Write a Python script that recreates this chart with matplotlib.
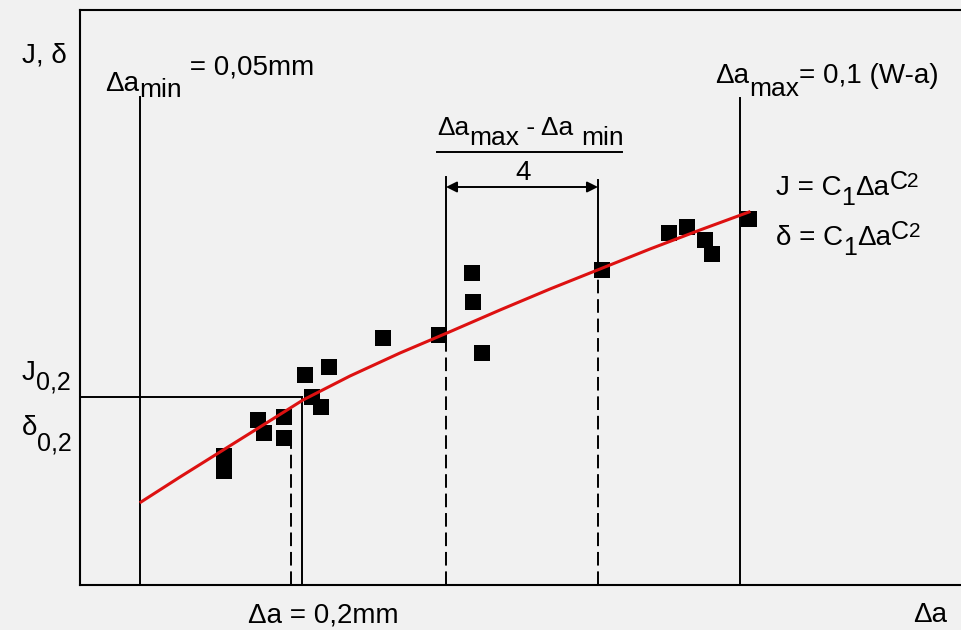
import matplotlib.pyplot as plt

plt.rcParams["font.family"] = ["Liberation Sans", "DejaVu Sans"]

bg = "#f1f1f1"

# measured points (axis units, origin at the lower left corner of the frame)
pts_x = [144, 144, 178, 184, 204, 204, 225, 249, 232, 241, 303, 359, 392, 393, 402,
         522, 589, 607, 625, 632, 669]
pts_y = [129, 114, 165, 152, 168, 147, 210, 218, 188, 178, 247, 250, 312, 283, 232,
         315, 352, 358, 345, 331, 366]

# fitted curve J = C1*da^C2
fit_x = [61, 100, 140, 180, 223, 270, 320, 367, 420, 470, 520, 570, 620, 669]
fit_y = [83, 108, 133, 158, 185, 209, 232, 252, 275, 296, 316, 336, 355, 373]

da_min, da_max = 60, 660
da_02, da_02_dash = 222, 211
J02 = 188
q1, q2 = 366, 518          # the quarter step
q1_y, q2_y = 252, 315      # where the fit meets them

fig = plt.figure(figsize=(9.61, 6.3), dpi=100, facecolor=bg)
ax = fig.add_axes([80/961, 45/630, 895/961, 575/630])
ax.set_facecolor(bg)
ax.set_xlim(0, 895)
ax.set_ylim(0, 575)
ax.set_xticks([])
ax.set_yticks([])
for s in ax.spines.values():
    s.set_linewidth(1.5)

lw = 1.4
dash = (0, (7, 3))
ax.plot([da_min, da_min], [0, 488], color="black", lw=lw)
ax.plot([da_max, da_max], [0, 487], color="black", lw=lw)
ax.plot([da_02, da_02], [0, J02], color="black", lw=lw)
ax.plot([0, da_02], [J02, J02], color="black", lw=lw)
ax.plot([da_02_dash, da_02_dash], [0, 140], color="black", lw=lw, linestyle=dash)

ax.plot([q1, q1], [q1_y, 408], color="black", lw=lw)
ax.plot([q1, q1], [0, q1_y], color="black", lw=lw, linestyle=dash)
ax.plot([q2, q2], [q2_y, 405], color="black", lw=lw)
ax.plot([q2, q2], [0, q2_y], color="black", lw=lw, linestyle=dash)
ax.annotate("", xy=(q1, 398), xytext=(q2, 398),
            arrowprops=dict(arrowstyle="<|-|>", color="black", lw=lw, mutation_scale=16,
                            shrinkA=0, shrinkB=0))

ax.plot(pts_x, pts_y, "s", color="black", markersize=12, markeredgewidth=0)
ax.plot(fit_x, fit_y, color="#dd1111", lw=2.2)

FS = 20


def rich(x, y, parts):
    # parts: (text, shift in points from the base line, font size)
    prev = None
    for s, dy, size in parts:
        if prev is None:
            prev = ax.annotate(s, xy=(x, y), xycoords="data", xytext=(0, dy),
                               textcoords="offset points", fontsize=size,
                               va="baseline", annotation_clip=False)
        else:
            prev = ax.annotate(s, xy=(1, y), xycoords=(prev, "data"), xytext=(0, dy),
                               textcoords="offset points", fontsize=size,
                               va="baseline", annotation_clip=False)


rich(-58, 522, [("J, δ", 0, FS)])
rich(25, 494, [("Δa", 0, FS), ("min", -4, FS - 1), (" = 0,05mm", 12, FS)])
rich(635, 502, [("Δa", 0, FS), ("max", -9, FS - 1), ("= 0,1 (W-a)", 0, FS)])
rich(357, 450, [("Δa", 0, FS - 1), ("max", -7, FS - 1), (" - Δa ", 0, FS - 1),
                ("min", -7, FS - 1)])
ax.plot([357, 542], [433, 433], color="black", lw=lw)
ax.text(443, 405, "4", ha="center", va="baseline", fontsize=FS)
rich(696, 390, [("J = C", 0, FS), ("1", -7, FS - 2), ("Δa", 0, FS),
                ("C", 4, FS - 2), ("2", 6, FS - 5)])
rich(696, 340, [("δ = C", 0, FS), ("1", -7, FS - 2), ("Δa", 0, FS),
                ("C", 4, FS - 2), ("2", 6, FS - 5)])
rich(-58, 205, [("J", 0, FS), ("0,2", -7, FS - 2)])
rich(-58, 150, [("δ", 0, FS), ("0,2", -11, FS - 2)])
rich(168, -38, [("Δa = 0,2mm", 0, FS)])
rich(833, -37, [("Δa", 0, FS)])

plt.savefig("out.png", dpi=100, facecolor=bg)
